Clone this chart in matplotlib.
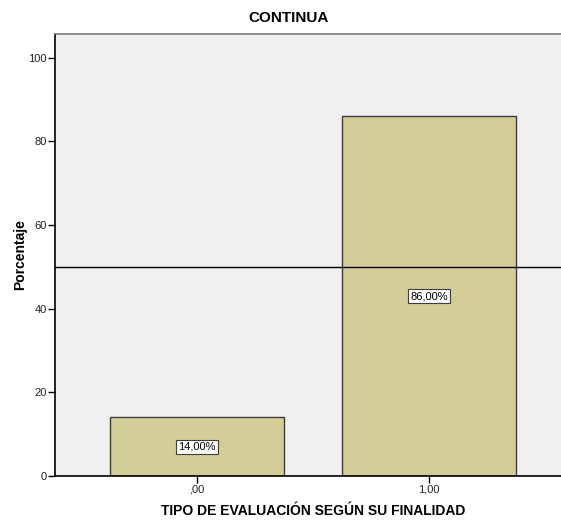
import matplotlib
matplotlib.use("Agg")
import matplotlib.pyplot as plt

categories = [",00", "1,00"]
percentages = [14.0, 86.0]
y_ticks = [0, 20, 40, 60, 80, 100]
reference_line = 50

plt.rcParams['font.family'] = ['Liberation Sans', 'DejaVu Sans']

W, H = 561, 520
fig = plt.figure(figsize=(W / 100, H / 100), dpi=100)
ax = fig.add_axes([55 / W, 44 / H, (W - 55) / W, (476 - 34) / H])
ax.set_facecolor("#F0F0F0")

x = list(range(len(categories)))
ax.bar(x, percentages, width=0.75, color="#D3CE97", edgecolor="#3c3c3c",
       linewidth=1.0, zorder=2)
ax.axhline(reference_line, color="black", linewidth=1.0, zorder=3)

for xi, v in zip(x, percentages):
    ax.text(xi, v / 2, f"{v:.2f}%".replace(".", ","), ha="center", va="center",
            fontsize=8, zorder=4,
            bbox=dict(boxstyle="square,pad=0.2", facecolor="white",
                      edgecolor="#3c3c3c", linewidth=0.8))

ax.set_xlim(-0.612, 1.569)
ax.set_ylim(0, 105.7)
ax.set_xticks(x)
ax.set_xticklabels(categories, fontsize=8, color="#222222")
ax.set_yticks(y_ticks)
ax.set_yticklabels([str(t) for t in y_ticks], fontsize=8, color="#222222")
ax.tick_params(axis="both", direction="out", length=5, width=1, color="black",
               pad=1)

for s in ("left", "bottom"):
    ax.spines[s].set_color("black")
    ax.spines[s].set_linewidth(1.2)
ax.spines["top"].set_color("#777777")
ax.spines["top"].set_linewidth(1.2)
ax.spines["right"].set_visible(False)

fig.text(289 / W, 1 - 18 / H, "CONTINUA", ha="center", va="center",
         fontsize=11, fontweight="bold")
fig.text(20 / W, 1 - 255 / H, "Porcentaje", ha="center", va="center",
         rotation=90, fontsize=10, fontweight="bold")
fig.text(313 / W, 1 - 511 / H, "TIPO DE EVALUACIÓN SEGÚN SU FINALIDAD",
         ha="center", va="center", fontsize=10, fontweight="bold")

fig.savefig("out.png", dpi=100)
